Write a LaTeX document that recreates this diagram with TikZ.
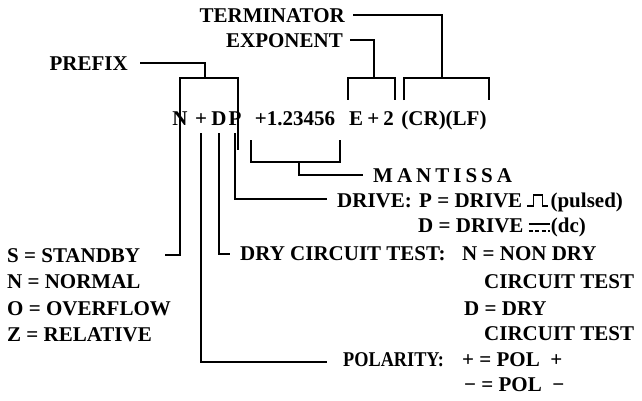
\documentclass[tikz,border=0pt]{standalone}
\usepackage{fontspec}
\setmainfont{Liberation Serif}
\usetikzlibrary{positioning}
\newcommand{\eqs}{\hspace{.25em}=\hspace{.25em}}

\begin{document}
\begin{tikzpicture}[
    x=1pt, y=-1pt,
    every node/.style={inner sep=0pt, font=\fontsize{21}{24}\selectfont\bfseries},
    lbl/.style={anchor=base west},
    lblr/.style={anchor=base east},
    chr/.style={anchor=base},
    wire/.style={line width=1.8pt},
    sym/.style={line width=1.1pt}
]
\useasboundingbox (0,0) rectangle (642,400);

% Nodes
\node (term) [lblr] at (345,22) {TERMINATOR};
\node (expo) [lblr] at (343,47) {EXPONENT};
\node (pref) [lblr] at (128,70) {PREFIX};

\node (cN) [chr] at (180,125) {N};
\node (cPlus) [chr] at (201,125) {+};
\node (cD) [chr] at (219,125) {D};
\node (cP) [chr] at (235,125) {P};
\node (mant) [chr] at (295,125) {+1.23456};
\node (expv) [chr] at (371.5,125) {E\hspace{.2em}+\hspace{.2em}2};
\node (crlf) [chr] at (444,125) {(CR)(LF)};

\node (mnts) [lbl] at (373,182) {M\kern4pt A\kern4pt N\kern4pt T\kern4pt I\kern4pt S\kern4pt S\kern4pt A};
\node (drv) [lbl] at (337,207) {DRIVE:};
\node (drvP) [lbl] at (419,207) {P\eqs DRIVE};
\node (puls) [lbl, right=28pt of drvP.base east, anchor=base west] {(pulsed)};
\node (drvD) [lbl] at (418,232) {D\eqs DRIVE};
\node (dcT) [lbl, right=27pt of drvD.base east, anchor=base west] {(dc)};

\node (dry) [lbl] at (240,260) {DRY CIRCUIT TEST:};
\node (dryN) [lbl] at (462,260) {N\eqs NON DRY};
\node (dryN2) [lbl] at (484,288) {CIRCUIT TEST};
\node (dryD) [lbl] at (464,315) {D\eqs DRY};
\node (dryD2) [lbl] at (484,340) {CIRCUIT TEST};
\node (pol) [lbl] at (343,366) {\addfontfeature{FakeStretch=0.87}POLARITY:};
\node (polP) [lbl] at (462,366) {+\eqs POL\hspace{.5em}+};
\node (polM) [lbl] at (464,391) {−\eqs POL\hspace{.5em}−};

\node (stby) [lbl] at (7,262) {S\eqs STANDBY};
\node (nrml) [lbl] at (7,288.5) {N\eqs NORMAL};
\node (ovfl) [lbl] at (7,315) {O\eqs OVERFLOW};
\node (rltv) [lbl] at (7,341.5) {Z\eqs RELATIVE};

\coordinate (bPre) at (205,78);
\coordinate (bExp) at (374,78);
\coordinate (bTerm) at (442,78);
\coordinate (bMan) at (299,162);
\coordinate (sbEnd) at (165,255);

% Connectors
\draw [wire] ([xshift=12pt,yshift=7pt]pref.base east) -| (bPre);
\draw [wire] ([yshift=-25pt]cN.base) |- (bPre) -| ([xshift=3pt,yshift=-25pt]cP.base);
\draw [wire] ([xshift=7pt,yshift=7pt]expo.base east) -| (bExp);
\draw [wire] ([xshift=-1pt,yshift=11pt]expv.north west) |- (bExp) -| ([xshift=1pt,yshift=11pt]expv.north east);
\draw [wire] ([xshift=8pt,yshift=7pt]term.base east) -| (bTerm);
\draw [wire] ([xshift=3pt,yshift=10pt]crlf.north west) |- (bTerm) -| ([xshift=2pt,yshift=10pt]crlf.north east);

\draw [wire] ([xshift=-4pt,yshift=-15pt]mant.base west) |- (bMan) -| ([xshift=5pt,yshift=-15pt]mant.base east);
\draw [wire] (bMan) |- ([xshift=-10pt,yshift=7pt]mnts.base west);
\draw [wire] ([yshift=-8pt]cP.base) |- ([xshift=-10pt,yshift=8pt]drv.base west);
\draw [wire] ([yshift=-8pt]cD.base) |- ([xshift=-10pt,yshift=6pt]dry.base west);
\draw [wire] ([yshift=-8pt]cPlus.base) |- ([xshift=-16pt,yshift=4pt]pol.base west);
\draw [wire] ([yshift=-8pt]cN.base) |- (sbEnd);

% Waveforms
\draw [sym] ([xshift=5pt,yshift=1pt]drvP.base east) -- ++(6,0) -- ++(0,-11) -- ++(9,0) -- ++(0,11) -- ++(6,0);
\draw [sym] ([xshift=5pt,yshift=8pt]drvD.base east) -- ++(21,0);
\draw [sym, dash pattern=on 4pt off 2.5pt] ([xshift=5pt,yshift=1pt]drvD.base east) -- ++(21,0);

\end{tikzpicture}
\end{document}
